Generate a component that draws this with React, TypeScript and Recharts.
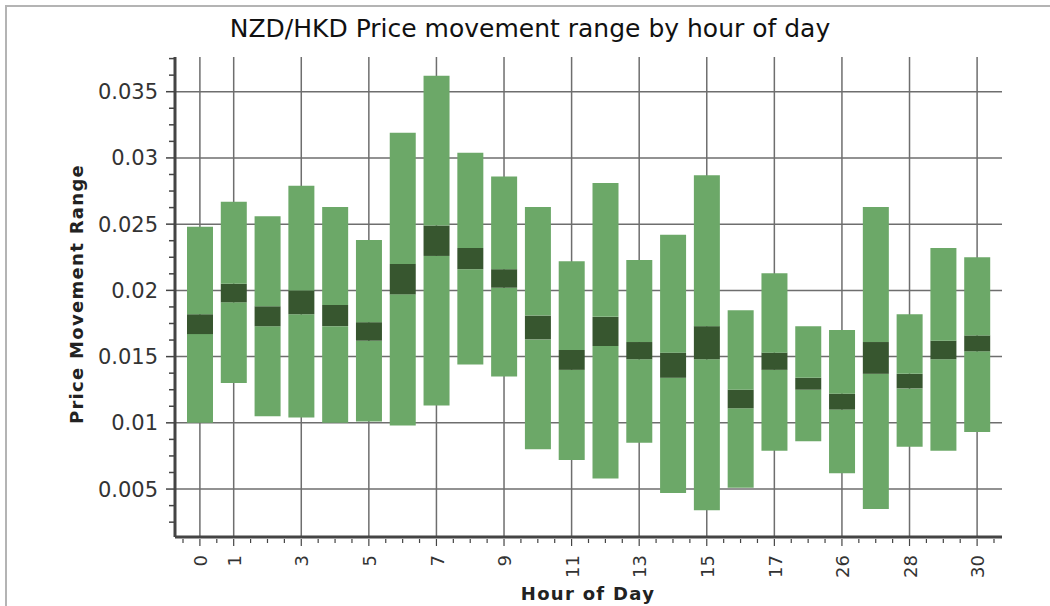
import React from "react";
import { ComposedChart, Bar, XAxis, YAxis, CartesianGrid } from "recharts";

// Categories (hour of day)
const hours = ["0", "1", "2", "3", "4", "5", "6", "7", "8", "9", "10", "11", "12", "13", "14", "15", "16", "17", "18", "26", "27", "28", "29", "30"];
// Hour labels that are printed on the axis (and carry a vertical grid line)
const shownHourLabels = ["0", "1", "3", "5", "7", "9", "11", "13", "15", "17", "26", "28", "30"];

// Full movement range (light bar)
const rangeLow = [0.0100, 0.0130, 0.0105, 0.0104, 0.0100, 0.0101, 0.0098, 0.0113, 0.0144, 0.0135, 0.0080, 0.0072, 0.0058, 0.0085, 0.0047, 0.0034, 0.0051, 0.0079, 0.0086, 0.0062, 0.0035, 0.0082, 0.0079, 0.0093];
const rangeHigh = [0.0248, 0.0267, 0.0256, 0.0279, 0.0263, 0.0238, 0.0319, 0.0362, 0.0304, 0.0286, 0.0263, 0.0222, 0.0281, 0.0223, 0.0242, 0.0287, 0.0185, 0.0213, 0.0173, 0.0170, 0.0263, 0.0182, 0.0232, 0.0225];
// Central band (dark box)
const boxLow = [0.0167, 0.0191, 0.0173, 0.0182, 0.0173, 0.0162, 0.0197, 0.0226, 0.0216, 0.0202, 0.0163, 0.0140, 0.0158, 0.0148, 0.0134, 0.0148, 0.0111, 0.0140, 0.0125, 0.0110, 0.0137, 0.0126, 0.0148, 0.0154];
const boxHigh = [0.0182, 0.0205, 0.0188, 0.0200, 0.0189, 0.0176, 0.0220, 0.0249, 0.0232, 0.0216, 0.0181, 0.0155, 0.0180, 0.0161, 0.0153, 0.0173, 0.0125, 0.0153, 0.0134, 0.0122, 0.0161, 0.0137, 0.0162, 0.0166];

// Y axis tick labels and minor ticks
const yTickLabels = [0.005, 0.01, 0.015, 0.02, 0.025, 0.03, 0.035];
const yMinorTicks = [0.0025, 0.00375, 0.00625, 0.0075, 0.00875, 0.01125, 0.0125, 0.01375, 0.01625, 0.0175, 0.01875, 0.02125, 0.0225, 0.02375, 0.02625, 0.0275, 0.02875, 0.03125, 0.0325, 0.03375, 0.03625, 0.0375];
const yDomain = [0.00138, 0.03762];

const data = hours.map((h, i) => ({
  hour: h,
  base: rangeLow[i],
  lowerRange: boxLow[i] - rangeLow[i],
  box: boxHigh[i] - boxLow[i],
  upperRange: rangeHigh[i] - boxHigh[i],
}));

const allYTicks = [...yTickLabels, ...yMinorTicks].sort((a, b) => a - b);

const FONT = "'DejaVu Sans', Verdana, sans-serif";
const LIGHT = "#6ca868";
const DARK = "#37562f";
const AXIS = "#444444";

const isMajorY = (v: number) => yTickLabels.some((t) => Math.abs(t - v) < 1e-9);

const YTick = (props: any) => {
  const { x, y, payload } = props;
  const v = payload.value as number;
  const major = isMajorY(v);
  return (
    <g>
      <line x1={x - (major ? 9 : 6)} x2={x} y1={y} y2={y} stroke={AXIS} strokeWidth={1.5} />
      {major && (
        <text x={x - 17} y={y} dy="0.36em" textAnchor="end" fontFamily={FONT} fontSize={21} fill="#333">
          {String(Number(v.toFixed(3)))}
        </text>
      )}
    </g>
  );
};

const XTick = (props: any) => {
  const { x, y, payload, index } = props;
  const label = payload.value as string;
  const shown = shownHourLabels.includes(label);
  const half = payload.offset ?? 16.9;
  return (
    <g>
      <line x1={x} x2={x} y1={y + 2} y2={y + (shown ? 9 : 6)} stroke={AXIS} strokeWidth={1.2} />
      <line x1={x - half} x2={x - half} y1={y + 2} y2={y + 6} stroke={AXIS} strokeWidth={1.2} />
      {index === hours.length - 1 && (
        <line x1={x + half} x2={x + half} y1={y + 2} y2={y + 6} stroke={AXIS} strokeWidth={1.2} />
      )}
      {shown && (
        <text
          x={x}
          y={y + 18}
          dy="0.4em"
          textAnchor="end"
          transform={`rotate(-90, ${x}, ${y + 18})`}
          fontFamily={FONT}
          fontSize={18}
          fill="#333"
        >
          {label}
        </text>
      )}
    </g>
  );
};

export default function App() {
  return (
    <div style={{ position: "absolute", left: 0, top: 0, width: 1050, height: 606, overflow: "hidden", background: "#fff" }}>
      <div
        style={{
          position: "absolute",
          left: 5,
          top: 5,
          width: 1100,
          height: 700,
          borderLeft: "2px solid #b4b4b4",
          borderTop: "2px solid #b4b4b4",
        }}
      />
      <div style={{ position: "absolute", left: 0, top: 0 }}>
        <ComposedChart
          width={1050}
          height={606}
          data={data}
          margin={{ top: 57, right: 48, bottom: 39, left: 115 }}
          barCategoryGap={0}
        >
          <CartesianGrid
            stroke="#6e6e6e"
            strokeWidth={1.5}
            horizontalValues={yTickLabels}
            verticalValues={shownHourLabels}
          />
          <XAxis
            dataKey="hour"
            type="category"
            interval={0}
            padding={{ left: 8, right: 8 }}
            height={30}
            tickSize={0}
            tickMargin={0}
            tickLine={false}
            axisLine={{ stroke: AXIS, strokeWidth: 3 }}
            tick={<XTick />}
          />
          <YAxis
            type="number"
            domain={yDomain}
            allowDataOverflow
            ticks={allYTicks}
            interval={0}
            width={60}
            tickSize={0}
            tickMargin={0}
            tickLine={false}
            axisLine={{ stroke: AXIS, strokeWidth: 3 }}
            tick={<YTick />}
          />
          <Bar dataKey="base" stackId="r" fill="transparent" barSize={26} isAnimationActive={false} />
          <Bar dataKey="lowerRange" stackId="r" fill={LIGHT} barSize={26} isAnimationActive={false} />
          <Bar dataKey="box" stackId="r" fill={DARK} barSize={26} isAnimationActive={false} />
          <Bar dataKey="upperRange" stackId="r" fill={LIGHT} barSize={26} isAnimationActive={false} />
        </ComposedChart>
      </div>
      <svg width={1050} height={606} style={{ position: "absolute", left: 0, top: 0, pointerEvents: "none" }}>
        <text x={530} y={37} textAnchor="middle" fontFamily={FONT} fontSize={25} fill="#111">
          NZD/HKD Price movement range by hour of day
        </text>
        <text
          x={83}
          y={294}
          textAnchor="middle"
          transform="rotate(-90, 83, 294)"
          fontFamily={FONT}
          fontSize={18}
          fontWeight="bold"
          letterSpacing={1.3}
          fill="#222"
        >
          Price Movement Range
        </text>
        <text x={588} y={600} textAnchor="middle" fontFamily={FONT} fontSize={18} fontWeight="bold" letterSpacing={1.3} fill="#222">
          Hour of Day
        </text>
      </svg>
    </div>
  );
}
